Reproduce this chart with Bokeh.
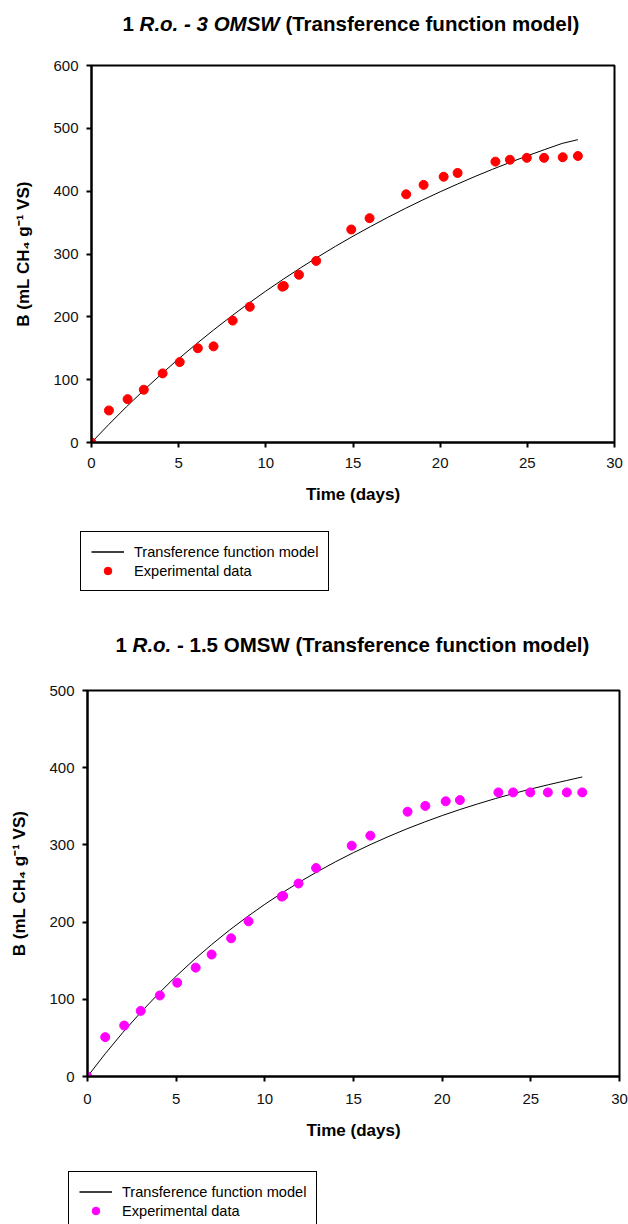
import numpy as np
from bokeh.plotting import figure
from bokeh.models import Range1d, FixedTicker, Legend, LegendItem, Label, ColumnDataSource
from bokeh.layouts import column, row
from bokeh.embed import file_html
from bokeh.resources import INLINE

# ---------------- data ----------------
days = [0, 1, 2.07, 3, 4.08, 5.06, 6.1, 7, 8.1, 9.08, 10.95, 11.03, 11.9, 12.89,
        14.9, 15.95, 18.05, 19.05, 20.2, 21, 23.17, 24, 24.97, 25.96, 27.03, 27.9]
b_exp_3omsw = [0, 51, 69, 84, 110, 128, 150, 153, 194, 216, 248, 249, 267, 289,
               339, 357, 395, 410, 423, 429, 447, 450, 453, 453, 454, 456]
b_exp_15omsw = [0, 51, 66, 85, 105, 121.5, 141, 158, 179, 201, 233, 234, 250, 270,
                299, 312, 343, 350.5, 356.5, 358, 368, 368, 368, 368, 368, 368]

model_days = [0, 1, 2, 3, 4, 5, 6, 7, 8, 9, 10, 11, 12, 13, 14, 15, 16, 17, 18, 19,
              20, 21, 22, 23, 24, 25, 26, 27, 27.9]
b_model_3omsw = [0, 28.9, 56.7, 83.2, 108.7, 133.2, 156.6, 179.0, 200.5, 221.2, 241.0,
                 259.9, 278.1, 295.5, 312.3, 328.3, 343.6, 358.4, 372.5, 386.0, 399.0,
                 411.4, 423.4, 434.8, 445.7, 456.2, 466.3, 476.0, 482.0]
b_model_15omsw = [0, 29.5, 57.2, 83.0, 107.2, 129.9, 151.1, 170.9, 189.5, 206.8, 223.1,
                  238.3, 252.5, 265.8, 278.3, 290.0, 300.9, 311.1, 320.7, 329.6, 338.0,
                  345.8, 353.1, 360.0, 366.4, 372.4, 378.0, 383.3, 388.0]

x_ticks = [0, 5, 10, 15, 20, 25, 30]
y_ticks_top = [0, 100, 200, 300, 400, 500, 600]
y_ticks_bot = [0, 100, 200, 300, 400, 500]

series_names = ["Transference function model", "Experimental data"]
x_label = "Time (days)"
y_label = "B (mL CH\u2084 g\u207b\u00b9 VS)"
title_top = [("1", False), ("R.o. - 3 OMSW", True), ("(Transference function model)", False)]
title_bot = [("1", False), ("R.o.", True), ("- 1.5 OMSW (Transference function model)", False)]

FONT = "Liberation Sans"
W = 628


def style(p, yticks, x_std, x_lab_std):
    p.xaxis.ticker = FixedTicker(ticks=x_ticks)
    p.yaxis.ticker = FixedTicker(ticks=yticks)
    p.grid.visible = False
    p.outline_line_color = "black"
    p.outline_line_width = 2
    p.outline_line_alpha = 1
    for ax in (p.xaxis, p.yaxis):
        ax.axis_line_width = 2
        ax.axis_line_color = "black"
        ax.major_tick_line_width = 2
        ax.major_tick_line_color = "black"
        ax.major_tick_out = 5
        ax.major_tick_in = 0
        ax.minor_tick_out = 0
        ax.minor_tick_in = 0
        ax.major_label_text_font = FONT
        ax.major_label_text_font_size = "15px"
        ax.major_label_text_color = "#111111"
        ax.axis_label_text_font = FONT
        ax.axis_label_text_font_style = "bold"
        ax.axis_label_text_font_size = "17px"
        ax.axis_label_text_color = "black"
    p.xaxis.axis_label = x_label
    p.yaxis.axis_label = y_label
    p.xaxis.major_label_standoff = x_std
    p.yaxis.major_label_standoff = 8
    p.xaxis.axis_label_standoff = x_lab_std
    p.yaxis.axis_label_standoff = 17


def blank_fig(h):
    f = figure(width=W, height=h, output_backend="svg", toolbar_location=None,
               x_range=Range1d(0, W), y_range=Range1d(h, 0),
               x_axis_type=None, y_axis_type=None, min_border=0,
               min_border_left=0, min_border_right=0,
               min_border_top=0, min_border_bottom=0)
    f.outline_line_color = None
    f.grid.visible = False
    return f


def legend_fig(h, dot_color, loc):
    f = blank_fig(h)
    # legend-only renderers: a single NaN row, so nothing is drawn in the plot area
    src = ColumnDataSource(data=dict(x=np.array([np.nan]), y=np.array([np.nan])))
    lr = f.line("x", "y", source=src, line_color="black", line_width=1.5)
    dr = f.scatter("x", "y", source=src, size=8, fill_color=dot_color, line_color=dot_color)
    lg = Legend(items=[LegendItem(label=series_names[0], renderers=[lr]),
                       LegendItem(label=series_names[1], renderers=[dr])],
                location=loc)
    lg.border_line_color = "black"
    lg.border_line_width = 1
    lg.border_line_alpha = 1
    lg.background_fill_color = "white"
    lg.background_fill_alpha = 1
    lg.label_text_font = FONT
    lg.label_text_font_size = "14.6px"
    lg.label_text_color = "black"
    lg.glyph_width = 33
    lg.glyph_height = 19
    lg.label_height = 19
    lg.label_standoff = 10
    lg.spacing = 0
    lg.padding = 10
    lg.margin = 0
    f.add_layout(lg)
    return f


def title_fig(h, pieces, xs, baseline, x0, x1):
    t = figure(width=W, height=h, output_backend="svg", toolbar_location=None,
               x_range=Range1d(x0, x1), y_range=Range1d(h, 0),
               x_axis_type=None, y_axis_type=None, min_border=0,
               min_border_left=x0, min_border_right=W - x1,
               min_border_top=0, min_border_bottom=0)
    t.outline_line_color = None
    t.grid.visible = False
    for (txt, it), x in zip(pieces, xs):
        t.add_layout(Label(x=x, y=baseline, text=txt, text_font=FONT,
                           text_font_size="20.5px",
                           text_font_style="bold italic" if it else "bold",
                           text_color="black", text_baseline="alphabetic",
                           text_align="left"))
    return t


# ---------------- top chart ----------------
t1 = title_fig(50, title_top, [122, 139.1, 284.9], 23, 91, 614)

p1 = figure(width=W, height=470, output_backend="svg", toolbar_location=None,
            x_range=Range1d(0, 30), y_range=Range1d(0, 600),
            min_border_left=91, min_border_right=14, min_border_top=15,
            min_border_bottom=78)
p1.line(model_days, b_model_3omsw, line_color="black", line_width=1)
p1.scatter(days, b_exp_3omsw, size=9, fill_color="#ff0000", line_color="#ff0000")
style(p1, y_ticks_top, 10, 14)

lf1 = legend_fig(88, "#ff0000", (80, 17))

# ---------------- bottom chart ----------------
t2 = title_fig(60, title_bot, [115, 132.1, 176.5], 36, 87, 619)

p2 = figure(width=W, height=482, output_backend="svg", toolbar_location=None,
            x_range=Range1d(0, 30), y_range=Range1d(0, 500),
            min_border_left=87, min_border_right=9, min_border_top=22,
            min_border_bottom=74)
p2.line(model_days, b_model_15omsw, line_color="black", line_width=1)
p2.scatter(days, b_exp_15omsw, size=9, fill_color="#ff00ff", line_color="#ff00ff")
style(p2, y_ticks_bot, 12, 14)

lf2 = legend_fig(74, "#ff00ff", (68, -7))

layout = column(column(t1, p1, spacing=0), row(lf1), column(t2, p2, spacing=0), row(lf2),
                spacing=0)
open("out.html", "w").write(file_html(layout, INLINE))
